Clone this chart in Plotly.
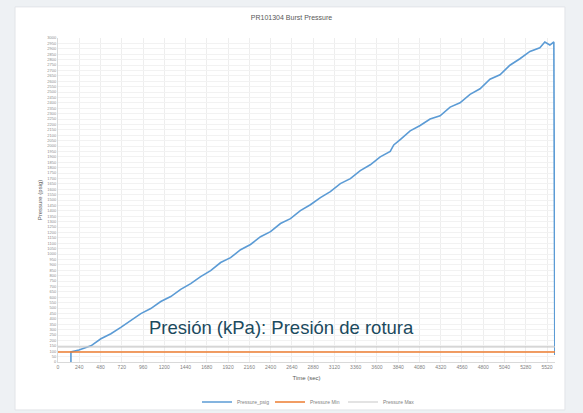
import plotly.graph_objects as go

time_sec = [146, 146, 236, 372, 484, 597, 709, 822, 935, 1047, 1160, 1273, 1385, 1498, 1610,
            1723, 1836, 1948, 2061, 2173, 2286, 2399, 2511, 2624, 2736, 2849, 2962, 3074, 3187,
            3300, 3412, 3525, 3637, 3750, 3790, 3863, 3975, 4088, 4200, 4313, 4426, 4538, 4651,
            4764, 4876, 4989, 5101, 5214, 5327, 5439, 5495, 5552, 5597, 5608]
pressure_psig = [0, 93, 111, 150, 215, 262, 320, 385, 448, 495, 560, 606, 672, 726, 790,
                 846, 921, 966, 1040, 1088, 1160, 1207, 1282, 1327, 1402, 1456, 1522, 1578, 1652,
                 1698, 1772, 1826, 1900, 1950, 2010, 2060, 2140, 2190, 2250, 2280, 2360, 2400, 2478,
                 2530, 2618, 2660, 2748, 2808, 2876, 2910, 2963, 2935, 2963, 65]
limit_time = [0, 5610]
pressure_min = [93, 93]
pressure_max = [140, 140]
x_ticks = list(range(0, 5521, 240))

fig = go.Figure()
fig.add_trace(go.Scatter(x=time_sec, y=pressure_psig, mode="lines", name="Pressure_psig",
                         line=dict(color="#5B9BD5", width=1.6)))
fig.add_trace(go.Scatter(x=limit_time, y=pressure_min, mode="lines", name="Pressure Min",
                         line=dict(color="#ED7D31", width=1.6)))
fig.add_trace(go.Scatter(x=limit_time, y=pressure_max, mode="lines", name="Pressure Max",
                         line=dict(color="#C8C8C8", width=1.2)))

fig.add_shape(type="rect", xref="paper", yref="paper", x0=-0.0865, x1=1.02, y0=-0.148, y1=1.096,
              fillcolor="white", line=dict(color="#e2e4e8", width=1), layer="below")

fig.add_annotation(text="Presión (kPa): Presión de rotura", xref="paper", yref="paper",
                   x=(281 - 58) / 497, y=(362 - 327) / 324, xanchor="center", yanchor="middle",
                   showarrow=False,
                   font=dict(family="Liberation Sans, Arial", size=18.5, color="#1b4a5e"))

fig.update_layout(
    width=583, height=413,
    margin=dict(l=58, r=28, t=38, b=51, autoexpand=False),
    paper_bgcolor="#eef1f4", plot_bgcolor="white",
    title=dict(text="PR101304 Burst Pressure", x=0.5, xanchor="center", y=1 - 18 / 413, yanchor="middle",
               font=dict(family="Liberation Sans, Arial", size=7, color="#595959")),
    font=dict(family="Liberation Sans, Arial", color="#7f7f7f"),
    showlegend=True,
    legend=dict(orientation="h", x=0.5, xanchor="center", y=-(402 - 362) / 324, yanchor="middle",
                itemwidth=30, entrywidth=28, entrywidthmode="pixels",
                font=dict(size=5, color="#7f7f7f"), bgcolor="rgba(0,0,0,0)"),
)
fig.update_xaxes(range=[0, 5610], tickmode="array", tickvals=x_ticks, automargin=False,
                 ticktext=[str(v) for v in x_ticks], tickfont=dict(size=5, color="#7f7f7f"),
                 showgrid=True, gridcolor="#eeeeee", gridwidth=1, zeroline=False,
                 showline=True, linecolor="#d9d9d9",
                 title=dict(text="Time (sec)", font=dict(size=6, color="#595959"), standoff=6))
fig.update_yaxes(range=[0, 3000], dtick=50, tickfont=dict(size=4, color="#8c8c8c"), automargin=False,
                 showgrid=True, gridcolor="#f2f2f2", gridwidth=1, zeroline=False,
                 showline=True, linecolor="#d9d9d9",
                 title=dict(text="Pressure (psig)", font=dict(size=6, color="#595959"), standoff=4))

fig.write_html("out.html", config={"displayModeBar": False},
               post_script="document.body.style.margin='0';document.body.style.background='#eef1f4';")
